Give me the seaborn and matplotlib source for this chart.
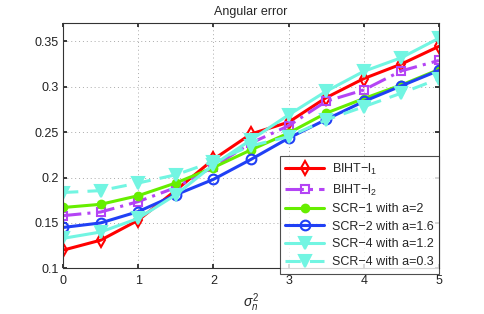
import matplotlib
matplotlib.use("Agg")
import matplotlib.pyplot as plt
import seaborn as sns
import pandas as pd
import numpy as np

sns.set_theme(style="white")
plt.rcParams['font.family'] = ['Liberation Sans', 'DejaVu Sans']
plt.rcParams['mathtext.fontset'] = 'custom'
plt.rcParams['mathtext.rm'] = 'Liberation Sans'
plt.rcParams['mathtext.it'] = 'Liberation Sans:italic'

sigma2 = [0, 0.5, 1, 1.5, 2, 2.5, 3, 3.5, 4, 4.5, 5]
biht_l1 = [0.120, 0.131, 0.153, 0.186, 0.220, 0.248, 0.261, 0.288, 0.309, 0.325, 0.3445]
biht_l2 = [0.158, 0.162, 0.1735, 0.189, 0.212, 0.238, 0.257, 0.284, 0.2965, 0.3175, 0.329]
scr1_a2 = [0.167, 0.1705, 0.180, 0.194, 0.211, 0.2305, 0.249, 0.271, 0.287, 0.302, 0.319]
scr2_a16 = [0.145, 0.150, 0.1625, 0.181, 0.198, 0.220, 0.2434, 0.264, 0.2838, 0.301, 0.318]
scr4_a12 = [0.133, 0.140, 0.155, 0.181, 0.214, 0.2415, 0.269, 0.295, 0.317, 0.332, 0.3535]
scr4_a03 = [0.1835, 0.1856, 0.194, 0.203, 0.2175, 0.235, 0.245, 0.2635, 0.278, 0.293, 0.3088]

labels = ['BIHT\u2212l$_1$', 'BIHT\u2212l$_2$', 'SCR\u22121 with a=2',
          'SCR\u22122 with a=1.6', 'SCR\u22124 with a=1.2', 'SCR\u22124 with a=0.3']
series = [biht_l1, biht_l2, scr1_a2, scr2_a16, scr4_a12, scr4_a03]
colors = ['#FF0000', '#B444F5', '#66EE00', '#2040F5', '#72F5E2', '#72F5E2']
styles = ['-', (0, (6, 2, 1, 2)), '-', '-', '-', (0, (5, 3))]
markers = ['d', 's', 'o', 'o', 'v', 'v']
mfcs = ['none', 'none', '#66EE00', 'none', '#72F5E2', '#72F5E2']
msizes = [7, 6, 5.5, 7, 9, 9]

fig = plt.figure(figsize=(4.85, 3.14), dpi=100)
ax = fig.add_axes([0.130, 0.1455, 0.775, 0.7805])

for y, lab, c, ls, m, mfc, ms in zip(series, labels, colors, styles, markers, mfcs, msizes):
    df = pd.DataFrame({'x': sigma2, 'y': y})
    sns.lineplot(data=df, x='x', y='y', ax=ax, color=c, linestyle=ls, linewidth=2.2,
                 marker=m, markersize=ms, markerfacecolor=mfc, markeredgecolor=c,
                 markeredgewidth=1.5, label=lab)

ax.set_xlim(0, 5)
ax.set_ylim(0.1, 0.37)
ax.set_xticks([0, 1, 2, 3, 4, 5])
ax.set_xticklabels(['0', '1', '2', '3', '4', '5'])
ax.set_yticks([0.1, 0.15, 0.2, 0.25, 0.3, 0.35])
ax.set_yticklabels(['0.1', '0.15', '0.2', '0.25', '0.3', '0.35'])
ax.tick_params(axis='both', labelsize=9, direction='in', length=3, colors='#222222',
               left=True, bottom=True, top=True, right=True, pad=3)
ax.tick_params(axis='x', pad=5)
ax.grid(True, linestyle=(0, (1, 3)), color='#aaaaaa', linewidth=0.7)
for s in ax.spines.values():
    s.set_color('#333333')
    s.set_linewidth(0.8)
ax.set_title('Angular error', fontsize=9, pad=6)
ax.set_xlabel('$\\sigma_n^2$', fontsize=10, labelpad=3)
ax.set_ylabel('')

leg = ax.legend(loc='upper right', bbox_to_anchor=(1.0, 0.458), borderaxespad=0,
                fontsize=9, frameon=True, fancybox=False, edgecolor='#222222',
                handlelength=3.1, handletextpad=0.6, labelspacing=0.45, borderpad=0.45)
leg.get_frame().set_linewidth(0.8)
leg.set_zorder(10)

fig.savefig('out.png', dpi=100)
